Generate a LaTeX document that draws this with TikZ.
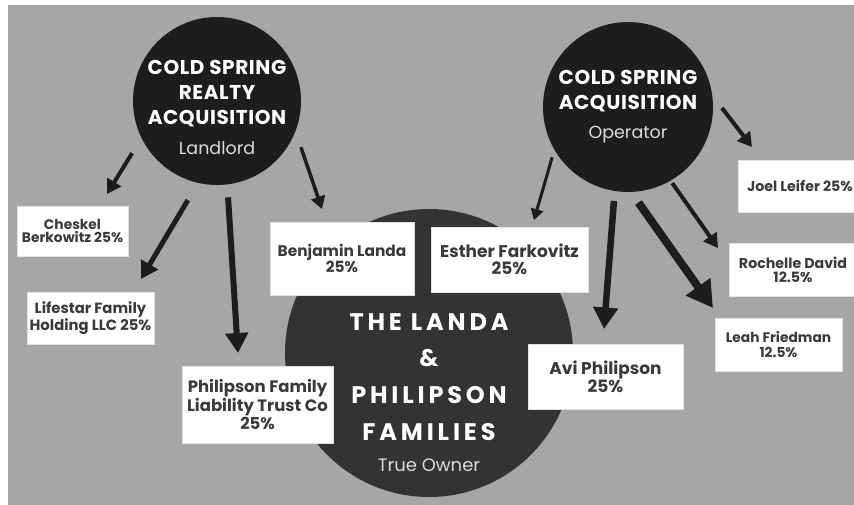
\documentclass[tikz,border=0pt]{standalone}
\usepackage{fontspec}
\setmainfont{Poppins}
\newfontfamily\headfont{Poppins}[LetterSpace=3]
\newfontfamily\ownerfont{Poppins}[LetterSpace=16]
\usetikzlibrary{arrows.meta}

\definecolor{canvas}{HTML}{A6A6A6}
\definecolor{inkdark}{HTML}{1D1D1D}
\definecolor{ownerdark}{HTML}{333333}
\definecolor{boxtext}{HTML}{3A3A3A}
\definecolor{rolegray}{HTML}{DCDCDC}

\newcommand\sharefont[2]{\bfseries\fontsize{#1}{#2}\selectfont}

\tikzset{
	entity/.style={circle, fill=inkdark, inner sep=0pt, outer sep=0pt, minimum size=#1},
	heading/.style={text=white, align=center, inner sep=0pt, font=\headfont\bfseries\fontsize{20}{25}\selectfont},
	role/.style={text=rolegray, inner sep=0pt, font=\fontsize{17.5}{20}\selectfont},
	share/.style={fill=white, draw=black!12, line width=0.8pt, text=boxtext, align=center, inner sep=0pt},
	stake/.style={color=inkdark, line width=#1, -{Triangle[length=2pt 3, width=3pt 3.2]}},
}

\begin{document}
\begin{tikzpicture}[x=1pt, y=-1pt]
	\useasboundingbox (0,0) rectangle (854,504);
	\fill[white] (-5,-5) rectangle (860,510);
	\fill[canvas] (8,5) rectangle (860,510);

	% the three companies
	\node[entity=288pt, fill=ownerdark] (owners) at (429,353) {};
	\node[entity=168pt] (realty) at (217,101) {};
	\node[entity=170pt] (operator) at (628,107) {};

	\node[heading] (realty name) at (217,94) {COLD SPRING\\REALTY\\ACQUISITION};
	\node[role] (realty role) at (217,148) {Landlord};
	\node[heading] (operator name) at (628,91) {COLD SPRING\\ACQUISITION};
	\node[role] (operator role) at (628,135) {Operator};
	\node[heading, font=\ownerfont\bfseries\fontsize{24}{36.7}\selectfont] (owners name) at (429,377) {THE LANDA\\\&\\PHILIPSON\\FAMILIES};
	\node[role, font=\fontsize{18}{20}\selectfont] (owners role) at (429,465) {True Owner};

	% shareholders
	\node[share, minimum width=111pt, minimum height=50pt, font=\sharefont{13.8}{13}] (cheskel) at (72.5,231) {Cheskel\\Berkowitz 25\%};
	\node[share, minimum width=127pt, minimum height=52pt, font=\sharefont{14.8}{12.5}] (lifestar) at (90.5,318) {Lifestar Family\\Holding LLC 25\%};
	\node[share, minimum width=151pt, minimum height=77pt, font=\sharefont{16.5}{14.5}] (trust) at (257.5,404.5) {Philipson Family\\Liability Trust Co\\25\%};
	\node[share, minimum width=144pt, minimum height=73pt, font=\sharefont{15.4}{16}] (benjamin) at (342,258.5) {Benjamin Landa\\25\%};
	\node[share, minimum width=157pt, minimum height=65pt, font=\sharefont{17}{17}] (esther) at (509.5,259.5) {Esther Farkovitz\\25\%};
	\node[share, minimum width=155pt, minimum height=65pt, font=\sharefont{17}{15}] (avi) at (605.5,376.5) {Avi Philipson\\25\%};
	\node[share, minimum width=124pt, minimum height=52pt, font=\sharefont{14.2}{14}] (joel) at (800,186) {Joel Leifer 25\%};
	\node[share, minimum width=128pt, minimum height=53pt, font=\sharefont{14.2}{14}] (rochelle) at (793,269.5) {Rochelle David\\12.5\%};
	\node[share, minimum width=127pt, minimum height=53pt, font=\sharefont{13.8}{15}] (leah) at (778.5,344.5) {Leah Friedman\\12.5\%};

	% arrow tips
	\coordinate (cheskel tip) at (107,194);
	\coordinate (lifestar tip) at (141,279);
	\coordinate (trust tip) at (238,353);
	\coordinate (benjamin tip) at (322,209);
	\coordinate (esther tip) at (534,220);
	\coordinate (avi tip) at (604,329);
	\coordinate (leah tip) at (713,308);
	\coordinate (rochelle tip) at (718,248);
	\coordinate (joel tip) at (752,147);

	\draw[stake=4pt, shorten <=18pt] (realty.206) -- (cheskel tip);
	\draw[stake=5pt, shorten <=20pt] (realty.257) -- (lifestar tip);
	\draw[stake=6pt, shorten <=13pt] (realty.277) -- (trust tip);
	\draw[stake=3.5pt, shorten <=17pt] (realty.339) -- (benjamin tip);
	\draw[stake=3pt, shorten <=8pt] (operator.210) -- (esther tip);
	\draw[stake=6.5pt, shorten <=10pt] (operator.261) -- (avi tip);
	\draw[stake=8pt, shorten <=13pt] (operator.272) -- (leah tip);
	\draw[stake=4pt, shorten <=3pt] (operator.300) -- (rochelle tip);
	\draw[stake=4pt, shorten <=16pt] (operator.8) -- (joel tip);
\end{tikzpicture}
\end{document}
